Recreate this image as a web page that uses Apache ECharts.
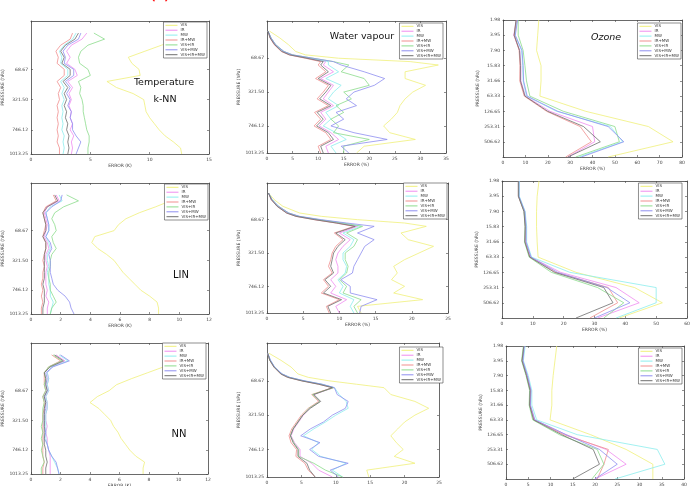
<!DOCTYPE html>
<html>
<head>
<meta charset="utf-8">
<style>html,body{margin:0;padding:0;background:#fff;}#main{width:692px;height:486px;}</style>
</head>
<body>
<div id="main"></div>
<script src="https://cdn.jsdelivr.net/npm/echarts@6/dist/echarts.min.js"></script>
<script>
// legend order follows the MATLAB colour order y m c r g b k
var names = ['VIS', 'IR', 'MW', 'IR+MW', 'VIS+IR', 'VIS+MW', 'VIS+IR+MW'];
var colors = ['#f0f07a', '#f08cf0', '#8ceeee', '#f08e8e', '#8cdc8c', '#8e8ef0', '#6e6e6e'];

// vertical axis = pressure level index
var tLevels = [4, 6, 8, 10, 12, 14, 16, 18, 20, 22, 24, 26, 28, 30, 32, 34, 36, 38, 40, 42, 44];
var wvLevels = [8, 10, 12, 14, 15, 16, 17, 18, 20, 22, 24, 26, 28, 30, 32, 34, 36, 38, 40, 42, 44];
var ozLevels = [0, 1, 2, 3, 4, 5, 6, 7, 8, 9];
var prTicks = [16, 26, 36, 44];
var prLabels = ['68.67', '321.50', '746.12', '1013.25'];
var ozLabels = ['1.98', '3.95', '7.90', '15.83', '31.66', '63.33', '126.65', '253.31', '506.62'];

// temperature error (K)
var tempKnn = [
  [13.8, 12.4, 11.0, 9.6, 8.2, 8.5, 9.1, 9.2, 6.4, 7.2, 8.6, 9.5, 9.6, 9.7, 10.0, 10.4, 10.8, 11.3, 12.0, 12.6, 12.7],
  [4.7, 4.3, 3.4, 3.0, 3.3, 3.0, 3.7, 3.9, 3.1, 3.5, 3.2, 3.4, 3.2, 3.4, 3.3, 3.5, 3.3, 3.6, 3.4, 3.5, 3.4],
  [3.8, 3.5, 2.8, 2.4, 2.6, 2.5, 3.1, 3.1, 2.5, 2.8, 2.6, 2.8, 2.6, 2.7, 2.6, 2.7, 2.6, 2.8, 2.7, 2.8, 2.7],
  [3.5, 3.3, 2.5, 2.1, 2.3, 2.2, 2.8, 2.8, 2.2, 2.5, 2.3, 2.4, 2.2, 2.3, 2.2, 2.3, 2.2, 2.3, 2.2, 2.4, 2.4],
  [5.3, 6.2, 4.8, 4.2, 4.0, 4.1, 4.8, 5.0, 4.0, 4.2, 4.1, 4.3, 4.4, 4.4, 4.5, 4.6, 4.7, 4.9, 4.9, 4.8, 4.8],
  [4.2, 4.0, 3.1, 2.7, 2.9, 2.8, 3.6, 3.6, 2.9, 3.3, 3.0, 3.3, 3.1, 3.4, 3.3, 3.5, 3.5, 3.8, 4.2, 4.0, 3.8],
  [4.0, 3.7, 2.9, 2.5, 2.8, 2.6, 3.3, 3.3, 2.7, 3.1, 2.8, 3.0, 2.8, 3.0, 2.9, 3.1, 3.0, 3.2, 3.1, 3.2, 3.1]
];
var tempLin = [
  [10.6, 9.4, 8.4, 7.3, 6.4, 5.9, 5.6, 4.3, 4.1, 4.5, 5.1, 5.6, 5.9, 6.2, 6.6, 7.0, 7.4, 8.0, 8.5, 8.6, 8.6],
  [1.7, 1.9, 1.1, 0.9, 1.0, 1.1, 1.0, 0.9, 1.1, 1.2, 1.0, 1.0, 1.1, 1.0, 1.0, 1.0, 1.1, 1.0, 1.2, 1.1, 1.1],
  [1.9, 2.1, 1.3, 1.0, 1.1, 1.2, 1.2, 1.0, 1.2, 1.3, 1.1, 1.1, 1.2, 1.1, 1.2, 1.2, 1.3, 1.3, 1.5, 1.4, 1.3],
  [1.5, 1.7, 1.0, 0.8, 0.9, 1.0, 0.9, 0.8, 1.0, 1.0, 0.9, 0.8, 0.9, 0.8, 0.8, 0.7, 0.8, 0.7, 0.8, 0.7, 0.7],
  [2.4, 3.2, 2.2, 1.6, 1.4, 1.6, 1.7, 1.4, 1.5, 1.7, 1.4, 1.3, 1.3, 1.2, 1.2, 1.3, 1.3, 1.5, 1.7, 1.4, 1.3],
  [2.1, 2.0, 1.4, 1.0, 1.1, 1.2, 1.2, 1.0, 1.3, 1.4, 1.2, 1.3, 1.3, 1.3, 1.4, 1.5, 1.8, 2.3, 2.6, 2.7, 2.9],
  [1.6, 1.8, 1.1, 0.8, 0.9, 1.0, 1.0, 0.8, 1.0, 1.0, 0.9, 0.9, 0.9, 0.9, 0.9, 0.8, 0.9, 0.9, 0.9, 0.8, 0.8]
];
var tempNn = [
  [10.8, 9.8, 9.0, 7.9, 6.8, 5.8, 5.3, 4.5, 4.0, 4.6, 5.0, 5.4, 5.6, 5.9, 6.1, 6.4, 6.7, 7.1, 7.7, 7.6, 7.6],
  [1.7, 2.3, 1.4, 1.1, 1.2, 1.1, 1.2, 1.0, 1.1, 1.1, 1.0, 1.0, 1.1, 1.0, 1.1, 1.1, 1.2, 1.3, 1.3, 1.3, 1.3],
  [1.9, 2.5, 1.4, 1.1, 1.2, 1.1, 1.2, 1.0, 1.1, 1.1, 1.0, 1.0, 1.0, 1.0, 1.0, 1.1, 1.2, 1.4, 1.6, 1.8, 1.9],
  [1.4, 2.0, 1.2, 0.9, 0.9, 0.9, 1.0, 0.8, 0.9, 0.9, 0.8, 0.8, 0.8, 0.8, 0.8, 0.8, 0.8, 0.8, 0.9, 0.8, 0.8],
  [1.5, 2.1, 1.2, 0.9, 1.0, 0.9, 1.0, 0.8, 0.9, 0.8, 0.8, 0.8, 0.7, 0.8, 0.7, 0.8, 0.7, 0.8, 0.9, 0.7, 0.7],
  [2.0, 2.6, 1.5, 1.0, 1.1, 1.0, 1.1, 0.9, 1.0, 1.0, 0.9, 0.9, 0.9, 1.0, 0.9, 1.1, 1.2, 1.4, 1.7, 1.8, 1.9],
  [1.6, 2.2, 1.3, 0.9, 1.0, 1.0, 1.1, 0.9, 1.0, 0.9, 0.9, 0.9, 0.9, 0.9, 0.9, 0.9, 1.0, 1.0, 1.1, 1.0, 1.0]
];

// water vapour error (%)
var wvKnn = [
  [0.5, 2.5, 4.2, 5.6, 7.5, 14, 28, 33.5, 27, 27, 31, 28.5, 27, 26, 25.5, 24.3, 22.8, 24, 29, 19, 17.5],
  [0.2, 0.7, 1.5, 3.0, 4.6, 8, 11.5, 11, 13, 10.5, 13, 12, 11, 13, 10.5, 11.5, 10.2, 12.5, 14, 11.5, 12],
  [0.2, 0.7, 1.6, 3.1, 4.7, 8.3, 12, 12, 14, 11.5, 14.5, 13, 12, 14, 11.5, 12.5, 11, 13.5, 15.5, 12.5, 13.5],
  [0.2, 0.6, 1.4, 2.8, 4.3, 7.5, 10.5, 10, 11.5, 9.5, 12, 11, 9.8, 12, 9.3, 10.5, 9.2, 11.5, 12.5, 10, 10.5],
  [0.2, 0.8, 1.7, 3.3, 5.0, 9, 13, 16, 14.5, 19, 20, 15, 16.5, 13.5, 15, 12.5, 14, 13, 20, 15, 15],
  [0.2, 0.8, 1.7, 3.3, 5.0, 9, 13, 14.5, 19, 23, 21, 17, 15.5, 17.5, 13.5, 15, 12.5, 17, 23.5, 14.5, 16],
  [0.2, 0.6, 1.5, 2.9, 4.4, 7.8, 11, 10.5, 12, 10, 12.5, 11.5, 10.3, 12.5, 9.8, 11, 9.7, 12, 13, 10.5, 11]
];
var wvLin = [
  [0.2, 1.0, 2.2, 4.5, 7.5, 12.5, 19, 22, 18.5, 19.5, 23, 21, 19, 17.5, 18, 17.2, 19, 17.5, 21.5, 12.5, 13],
  [0.2, 0.6, 1.5, 2.8, 4.2, 6.8, 9.8, 12.5, 10, 11.5, 10.5, 9.8, 9.5, 9.8, 9.8, 8.8, 9.5, 8.8, 11, 9.5, 10],
  [0.2, 0.7, 1.5, 2.9, 4.3, 7, 10.2, 13, 10.5, 12, 11.5, 10.5, 10.5, 11, 10.8, 9.8, 10.5, 10, 12, 11.5, 12],
  [0.2, 0.6, 1.4, 2.7, 4.0, 6.5, 9.5, 12, 9.3, 10.5, 9.5, 9.0, 8.8, 8.5, 9.0, 7.8, 8.5, 7.5, 10, 8.2, 8.6],
  [0.2, 0.7, 1.6, 3.0, 4.4, 7.2, 10.5, 13.2, 11, 12.5, 12, 10.8, 10.8, 11.2, 11, 10, 11, 10.5, 13, 12, 12.5],
  [0.2, 0.7, 1.6, 3.0, 4.5, 7.5, 11, 14.8, 12.5, 14.8, 13.5, 13, 12.5, 12, 11.8, 10.2, 11.5, 11.5, 15.2, 13, 12.8],
  [0.2, 0.6, 1.4, 2.7, 4.0, 6.6, 9.6, 12.2, 9.5, 10.8, 9.8, 9.2, 9.0, 8.8, 9.2, 8.0, 8.8, 7.8, 10.3, 8.4, 8.8]
];
var wvNn = [
  [0.3, 2.0, 3.5, 4.5, 6, 9, 13, 17, 18, 21.5, 23.5, 21.5, 20, 19, 18, 18.8, 19.8, 18.5, 21.5, 14.5, 14.8],
  [0.1, 0.4, 1.1, 2.1, 3.2, 5.2, 7.8, 9.7, 6.8, 7.6, 6.2, 5.3, 4.6, 3.9, 3.5, 4.0, 4.8, 4.8, 6.5, 7.5, 9.5],
  [0.1, 0.5, 1.1, 2.2, 3.3, 5.4, 8, 9.8, 10.5, 11.5, 11.8, 10, 8.5, 6.8, 5.3, 7.5, 6.5, 7.8, 11.5, 9.5, 11],
  [0.1, 0.4, 1.0, 2.0, 3.0, 5.0, 7.5, 9.5, 6.5, 7.5, 6, 5, 4.3, 3.6, 3.2, 3.5, 4.3, 4.2, 5.5, 6.0, 7.0],
  [0.1, 0.4, 1.1, 2.1, 3.2, 5.2, 7.8, 9.7, 6.6, 7.7, 6.1, 5.2, 4.5, 3.8, 3.4, 3.9, 4.6, 4.6, 6.8, 8.5, 11],
  [0.1, 0.5, 1.1, 2.2, 3.3, 5.4, 8, 9.8, 10.2, 11.8, 11.4, 9.5, 8.2, 6.3, 4.9, 7.7, 6.2, 7.5, 11.8, 9.2, 10.4],
  [0.1, 0.4, 1.0, 2.0, 3.0, 5.0, 7.5, 9.5, 6.8, 7.8, 6.3, 5.2, 4.5, 3.8, 3.4, 3.8, 4.5, 4.5, 5.8, 6.2, 7.0]
];

// ozone error (%)
var ozKnn = [
  [16, 15.5, 15, 17, 17, 16.5, 37, 65, 76, 47],
  [6, 4.8, 7.5, 8, 8, 10, 21, 40, 41, 29],
  [6.3, 5.3, 8.3, 8.8, 9, 10.5, 24, 48, 53.5, 34],
  [6, 5, 7.2, 7.6, 7.5, 9.5, 19.5, 34.5, 39.5, 28],
  [6.8, 6.8, 9, 9.8, 10.5, 12, 27, 50, 52, 32.5],
  [6.5, 5.5, 8.5, 9, 9.2, 10.8, 24.5, 47, 54, 35],
  [5.8, 5, 7.4, 7.8, 7.8, 9.8, 20, 36, 43.5, 29]
];
var ozLin = [
  [12, 11.4, 11.2, 11.2, 11.4, 11.7, 24, 43, 52, 38],
  [5.4, 5.4, 7.3, 7.7, 7.6, 9.3, 19, 37, 44.5, 31],
  [5.6, 5.6, 7.5, 8.0, 8.0, 9.6, 22, 50, 50, 37],
  [5.3, 5.3, 7.2, 7.6, 7.5, 9.0, 17.5, 34.5, 37.5, 28.5],
  [5.4, 5.4, 7.2, 7.5, 7.3, 8.8, 16, 31, 39.5, 33],
  [5.5, 5.5, 7.4, 7.8, 7.8, 9.4, 18, 34, 41.5, 30],
  [5.3, 5.3, 7.1, 7.5, 7.4, 9.0, 17, 33, 36, 24]
];
var ozNn = [
  [11.4, 11, 10.6, 10.3, 10.3, 9.9, 19, 27, 33, 33],
  [4.1, 3.7, 4.8, 5.6, 5.4, 6.4, 13.5, 22.5, 27, 20],
  [4.3, 3.9, 5.0, 5.8, 5.8, 6.9, 16, 34, 35.7, 24.5],
  [4.0, 3.6, 4.6, 5.5, 5.3, 6.3, 13, 23, 22, 20.5],
  [3.9, 3.5, 4.5, 5.3, 5.2, 6.0, 12, 20.5, 22, 19.3],
  [4.1, 3.8, 4.8, 5.6, 5.5, 6.5, 13.5, 21, 25, 20],
  [4.0, 3.6, 4.6, 5.4, 5.3, 6.2, 12.5, 19.6, 21, 15]
];

// panel layout: [left, top, right, bottom], x axis [max, interval], legend [right edge, top]
var panels = [
  {box: [31, 21, 209, 154], x: [15, 5], kind: 't', data: tempKnn, leg: [207, 22]},
  {box: [267, 21, 446, 153], x: [35, 5], kind: 'wv', data: wvKnn, leg: [443, 23]},
  {box: [503, 20, 682, 157], x: [80, 10], kind: 'oz', data: ozKnn, leg: [681, 23]},
  {box: [31, 183, 209, 314], x: [12, 2], kind: 't', data: tempLin, leg: [208, 184]},
  {box: [267, 183, 448, 313], x: [25, 5], kind: 'wv', data: wvLin, leg: [447, 183]},
  {box: [502, 181, 687, 318], x: [60, 10], kind: 'oz', data: ozLin, leg: [682, 183]},
  {box: [31, 343, 208, 474], x: [12, 2], kind: 't', data: tempNn, leg: [206, 343]},
  {box: [267, 343, 439, 477], x: [25, 5], kind: 'wv', data: wvNn, leg: [443, 347]},
  {box: [506, 346, 684, 479], x: [40, 5], kind: 'oz', data: ozNn, leg: [682, 348]}
];

var lineCol = '#444';
var grids = [], xAxes = [], yAxes = [], series = [], legends = [];

panels.forEach(function (p, i) {
  var b = p.box;
  grids.push({left: b[0], top: b[1], width: b[2] - b[0], height: b[3] - b[1], outerBoundsMode: 'none'});

  [ 'bottom', 'top' ].forEach(function (pos) {
    xAxes.push({
      type: 'value', gridIndex: i, position: pos, min: 0, max: p.x[0], interval: p.x[1],
      name: pos === 'bottom' ? (p.kind === 't' ? 'ERROR (K)' : 'ERROR (%)') : '',
      nameLocation: 'middle', nameGap: 9,
      nameTextStyle: {fontSize: 4.5, color: '#444', fontFamily: 'DejaVu Sans'},
      splitLine: {show: false},
      axisLine: {show: true, onZero: false, lineStyle: {color: lineCol, width: 0.8}},
      axisTick: {inside: true, length: 2, lineStyle: {color: lineCol, width: 0.6}},
      axisLabel: {show: pos === 'bottom', fontSize: 4.5, color: '#444', margin: 3, fontFamily: 'DejaVu Sans'}
    });
  });

  var levels = p.kind === 't' ? tLevels : (p.kind === 'wv' ? wvLevels : ozLevels);
  var yMin = p.kind === 't' ? 0 : (p.kind === 'wv' ? 5 : 0);
  var yMax = p.kind === 'oz' ? 9 : 44;

  [ 'left', 'right' ].forEach(function (pos) {
    var ax = {
      type: 'value', gridIndex: i, position: pos, inverse: true, min: yMin, max: yMax,
      name: pos === 'left' ? 'PRESSURE (hPa)' : '',
      nameLocation: 'middle', nameGap: 19, nameRotate: 90,
      nameTextStyle: {fontSize: 4.5, color: '#444', fontFamily: 'DejaVu Sans'},
      splitLine: {show: false},
      axisLine: {show: true, onZero: false, lineStyle: {color: lineCol, width: 0.8}},
      axisTick: {inside: true, length: 2, lineStyle: {color: lineCol, width: 0.6}},
      axisLabel: {show: pos === 'left', fontSize: 4.5, color: '#444', margin: 3, fontFamily: 'DejaVu Sans'}
    };
    if (p.kind === 'oz') {
      ax.interval = 1;
      ax.axisLabel.formatter = function (v) { return ozLabels[v] || ''; };
    } else {
      ax.axisTick.customValues = prTicks;
      ax.axisLabel.customValues = prTicks;
      ax.axisLabel.formatter = function (v) {
        var k = prTicks.indexOf(v);
        return k >= 0 ? prLabels[k] : '';
      };
    }
    yAxes.push(ax);
  });

  p.data.forEach(function (vals, k) {
    series.push({
      type: 'line', name: names[k], xAxisIndex: 2 * i, yAxisIndex: 2 * i,
      data: vals.map(function (v, j) { return [v, levels[j]]; }),
      showSymbol: false, symbol: 'none', silent: true, animation: false,
      color: colors[k],
      lineStyle: {color: colors[k], width: 0.8}
    });
  });

  legends.push({
    orient: 'vertical', right: 692 - p.leg[0], top: p.leg[1],
    data: names, icon: 'rect', itemWidth: 12, itemHeight: 1, itemGap: 0.3,
    selectedMode: false, padding: [1, 2, 1, 2],
    backgroundColor: '#fff', borderColor: lineCol, borderWidth: 0.6,
    textStyle: {fontSize: 4, lineHeight: 4.6, color: '#444', fontFamily: 'DejaVu Sans', padding: [0, 0, 0, -2]}
  });
});

function label(text, x, y, size, extra) {
  return Object.assign({
    type: 'text', x: x, y: y,
    style: {text: text, fill: '#111', font: size + 'px "DejaVu Sans"', textAlign: 'center', textVerticalAlign: 'middle'}
  }, extra || {});
}

var graphics = [
  label('Temperature', 164, 83, 9.5),
  label('k-NN', 165, 100, 9.5),
  label('Water vapour', 362, 37, 9.5),
  label('Ozone', 606, 38, 9.5),
  label('LIN', 181, 275, 10),
  label('NN', 179, 434, 10),
  // figure tag cut off by the top edge
  {type: 'text', x: 160, y: 2.5, style: {text: '(a)', fill: '#ff1a1a', font: 'bold 12px "DejaVu Sans"', textAlign: 'center', textVerticalAlign: 'bottom'}}
];
graphics[3].style.font = 'italic 9.5px "DejaVu Sans"';

var chart = echarts.init(document.getElementById('main'), null, {renderer: 'canvas'});
chart.setOption({
  backgroundColor: '#fff',
  animation: false,
  grid: grids,
  xAxis: xAxes,
  yAxis: yAxes,
  legend: legends,
  series: series,
  graphic: graphics
});
</script>
</body>
</html>
